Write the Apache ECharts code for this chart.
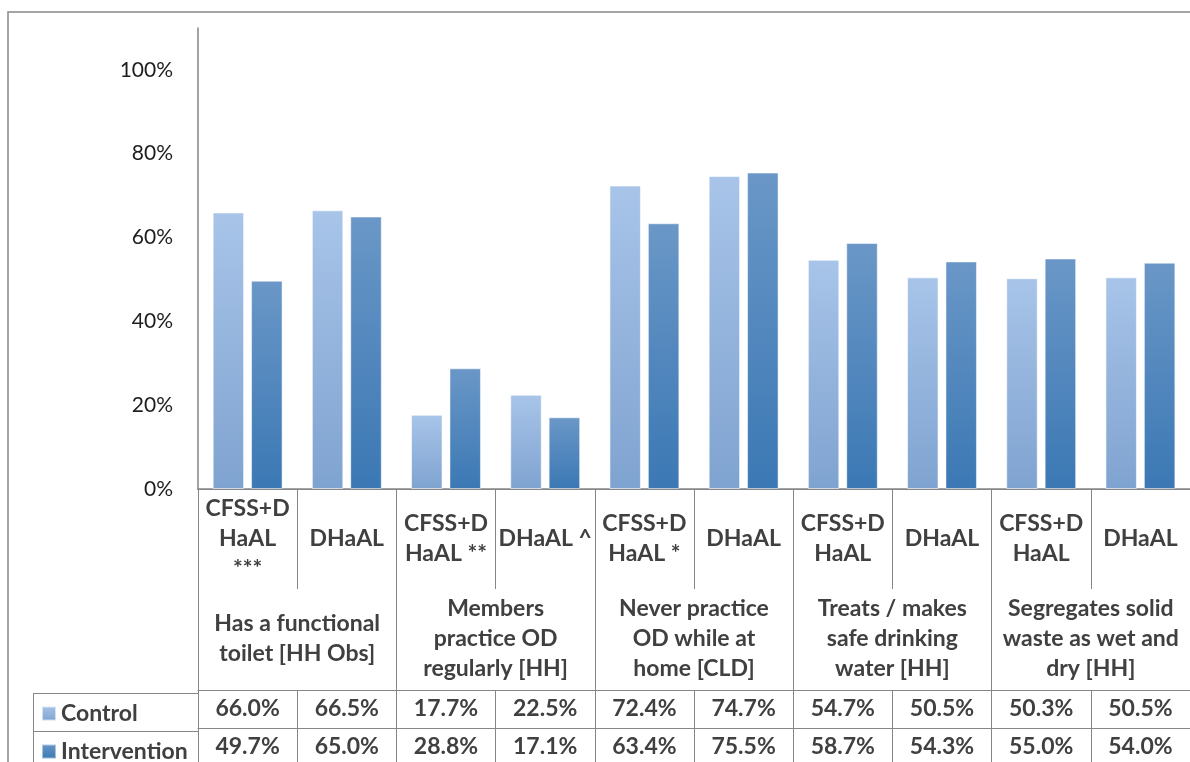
<!DOCTYPE html>
<html><head><meta charset="utf-8">
<script src="https://cdn.jsdelivr.net/npm/echarts@6/dist/echarts.min.js"></script>
<style>html,body{margin:0;padding:0;background:#fff}#c{width:1190px;height:762px}</style>
</head><body><div id="c"></div>
<script>
const subCategories = ['CFSS+D\nHaAL\n***', 'DHaAL', 'CFSS+D\nHaAL **', 'DHaAL ^', 'CFSS+D\nHaAL *', 'DHaAL', 'CFSS+D\nHaAL', 'DHaAL', 'CFSS+D\nHaAL', 'DHaAL'];
const groups = ['Has a functional\ntoilet [HH Obs]', 'Members\npractice OD\nregularly [HH]', 'Never practice\nOD while at\nhome [CLD]', 'Treats / makes\nsafe drinking\nwater [HH]', 'Segregates solid\nwaste as wet and\ndry [HH]'];
const seriesNames = ['Control', 'Intervention'];
const control = [66.0, 66.5, 17.7, 22.5, 72.4, 74.7, 54.7, 50.5, 50.3, 50.5];
const intervention = [49.7, 65.0, 28.8, 17.1, 63.4, 75.5, 58.7, 54.3, 55.0, 54.0];
const yTickLabels = ['0%', '20%', '40%', '60%', '80%', '100%'];

const FONT = 'Lato';
const FS = 23;
const LINE = '#868686';
const TXT = '#404040';
const pct = v => v.toFixed(1) + '%';

const gradControl = new echarts.graphic.LinearGradient(0, 0, 0, 1, [
  {offset: 0, color: '#a8c4e9'}, {offset: 1, color: '#7fa3d0'}]);
const gradInterv = new echarts.graphic.LinearGradient(0, 0, 0, 1, [
  {offset: 0, color: '#6a97c7'}, {offset: 1, color: '#3b78b4'}]);

const catAxisBase = {
  type: 'category', gridIndex: 0, position: 'bottom', data: subCategories,
  axisLine: {show: true, lineStyle: {color: LINE, width: 1}},
  axisTick: {show: true, alignWithLabel: false, interval: 0, lineStyle: {color: LINE, width: 1}},
  axisLabel: {interval: 0, color: TXT, fontFamily: FONT, fontWeight: 'bold', fontSize: FS, verticalAlign: 'middle', lineHeight: 30}
};

const legendText = {color: TXT, fontFamily: FONT, fontWeight: 'bold', fontSize: FS};

const chart = echarts.init(document.getElementById('c'), null, {renderer: 'canvas'});
chart.setOption({
  animation: false,
  backgroundColor: '#fff',
  grid: {left: 198, right: -8, top: 28, bottom: 270, containLabel: false},
  legend: [
    {orient: 'vertical', left: 41, top: 702, padding: 0, itemWidth: 14, itemHeight: 14, icon: 'rect',
     selectedMode: false, data: [seriesNames[0]], textStyle: legendText},
    {orient: 'vertical', left: 41, top: 740, padding: 0, itemWidth: 14, itemHeight: 14, icon: 'rect',
     selectedMode: false, data: [seriesNames[1]], textStyle: legendText}
  ],
  xAxis: [
    Object.assign({}, catAxisBase, {
      axisLine: {show: true, lineStyle: {color: LINE, width: 1.5}},
      axisTick: Object.assign({}, catAxisBase.axisTick, {length: 100}),
      axisLabel: Object.assign({}, catAxisBase.axisLabel, {margin: 50})
    }),
    Object.assign({}, catAxisBase, {
      data: groups,
      axisTick: Object.assign({}, catAxisBase.axisTick, {length: 201}),
      axisLabel: Object.assign({}, catAxisBase.axisLabel, {margin: 150})
    }),
    Object.assign({}, catAxisBase, {
      offset: 201,
      axisTick: Object.assign({}, catAxisBase.axisTick, {length: 38}),
      axisLabel: Object.assign({}, catAxisBase.axisLabel, {margin: 19, formatter: (v, i) => pct(control[i])})
    }),
    Object.assign({}, catAxisBase, {
      offset: 239,
      axisTick: Object.assign({}, catAxisBase.axisTick, {length: 38}),
      axisLabel: Object.assign({}, catAxisBase.axisLabel, {margin: 19, formatter: (v, i) => pct(intervention[i])})
    })
  ],
  yAxis: {
    type: 'value', min: 0, max: 110, interval: 20,
    axisLine: {show: true, lineStyle: {color: LINE, width: 1.5}},
    axisTick: {show: false},
    splitLine: {show: false},
    axisLabel: {
      margin: 25, color: '#1e1e1e', fontFamily: FONT, fontSize: 21,
      formatter: v => Number.isInteger(v / 20) ? (yTickLabels[v / 20] || '') : ''
    }
  },
  series: [
    {name: seriesNames[0], type: 'bar', xAxisIndex: 0, data: control, barWidth: 31.5, barGap: '22%',
     itemStyle: {color: gradControl, borderColor: 'rgba(255,255,255,0.6)', borderWidth: 1}},
    {name: seriesNames[1], type: 'bar', xAxisIndex: 0, data: intervention, barWidth: 31.5, barGap: '22%',
     itemStyle: {color: gradInterv, borderColor: 'rgba(255,255,255,0.5)', borderWidth: 1}}
  ],
  graphic: [
    {type: 'rect', shape: {x: 8, y: 12, width: 1220, height: 800}, style: {fill: 'none', stroke: '#888', lineWidth: 1.5}, silent: true, z: -1},
    {type: 'line', shape: {x1: 33, y1: 693.5, x2: 198, y2: 693.5}, style: {stroke: LINE, lineWidth: 1}, silent: true},
    {type: 'line', shape: {x1: 33, y1: 731.5, x2: 198, y2: 731.5}, style: {stroke: LINE, lineWidth: 1}, silent: true},
    {type: 'line', shape: {x1: 33.5, y1: 693, x2: 33.5, y2: 770}, style: {stroke: LINE, lineWidth: 1}, silent: true}
  ]
});
</script></body></html>
